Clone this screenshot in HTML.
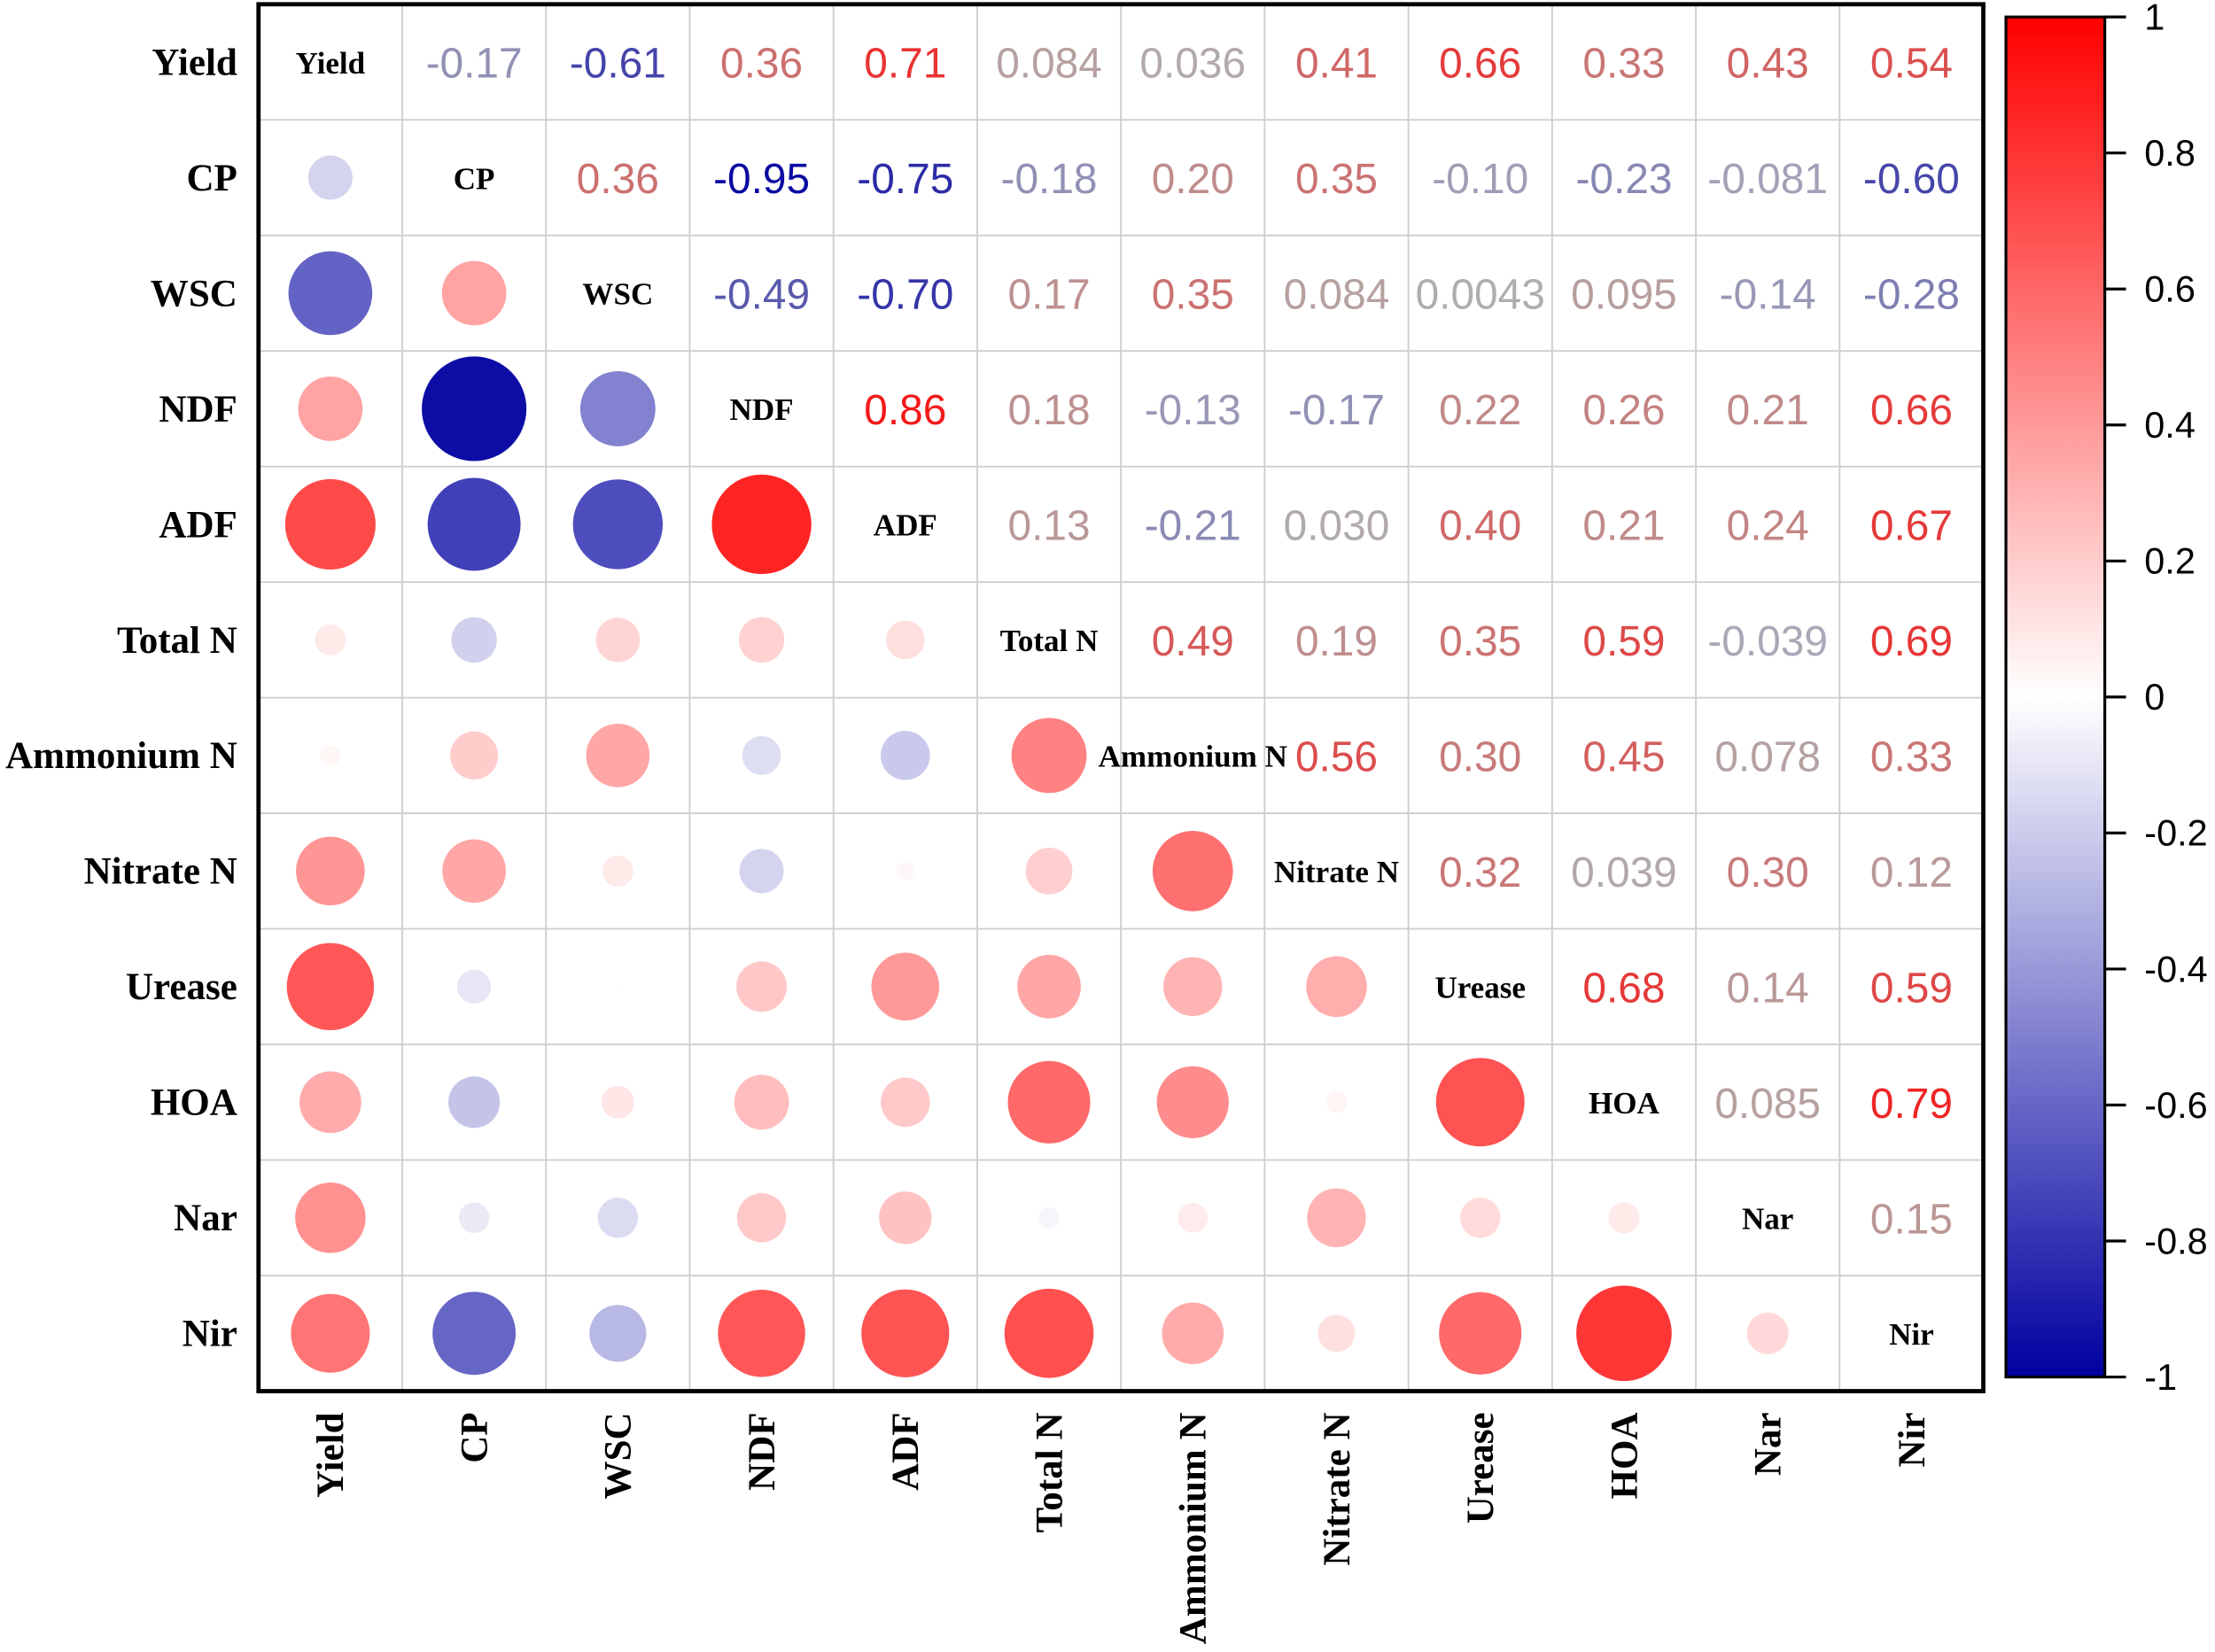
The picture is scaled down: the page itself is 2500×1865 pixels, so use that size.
<!DOCTYPE html>
<html><head><meta charset="utf-8"><style>
html,body{margin:0;padding:0;background:#fff;}
svg{display:block;}
</style></head><body>
<svg id="chart" width="2500" height="1865" viewBox="0 0 1568 1169.7" xmlns="http://www.w3.org/2000/svg">
<defs>
<linearGradient id="cbar" x1="0" y1="0" x2="0" y2="1">
<stop offset="0" stop-color="rgb(255,0,0)"/>
<stop offset="0.5" stop-color="rgb(255,255,255)"/>
<stop offset="1" stop-color="rgb(0,0,160)"/>
</linearGradient>
</defs>
<g id="grid"></g>
<g id="marks"></g>
<g id="labels"></g>
<rect x="183" y="3" width="1221" height="982" fill="none" stroke="#000" stroke-width="3"/>
<rect x="1420" y="12" width="70" height="963" fill="url(#cbar)" stroke="#000" stroke-width="2"/>
<g id="cbticks"></g>
</svg>
<script>
const variables = ["Yield","CP","WSC","NDF","ADF","Total N","Ammonium N","Nitrate N","Urease","HOA","Nar","Nir"];
const upperRows = [
 [-0.17,-0.61,0.36,0.71,0.084,0.036,0.41,0.66,0.33,0.43,0.54],
 [0.36,-0.95,-0.75,-0.18,0.20,0.35,-0.10,-0.23,-0.081,-0.60],
 [-0.49,-0.70,0.17,0.35,0.084,0.0043,0.095,-0.14,-0.28],
 [0.86,0.18,-0.13,-0.17,0.22,0.26,0.21,0.66],
 [0.13,-0.21,0.030,0.40,0.21,0.24,0.67],
 [0.49,0.19,0.35,0.59,-0.039,0.69],
 [0.56,0.30,0.45,0.078,0.33],
 [0.32,0.039,0.30,0.12],
 [0.68,0.14,0.59],
 [0.085,0.79],
 [0.15]
];
const upperLabels = [
 ["-0.17","-0.61","0.36","0.71","0.084","0.036","0.41","0.66","0.33","0.43","0.54"],
 ["0.36","-0.95","-0.75","-0.18","0.20","0.35","-0.10","-0.23","-0.081","-0.60"],
 ["-0.49","-0.70","0.17","0.35","0.084","0.0043","0.095","-0.14","-0.28"],
 ["0.86","0.18","-0.13","-0.17","0.22","0.26","0.21","0.66"],
 ["0.13","-0.21","0.030","0.40","0.21","0.24","0.67"],
 ["0.49","0.19","0.35","0.59","-0.039","0.69"],
 ["0.56","0.30","0.45","0.078","0.33"],
 ["0.32","0.039","0.30","0.12"],
 ["0.68","0.14","0.59"],
 ["0.085","0.79"],
 ["0.15"]
];
const cbTicks = [1,0.8,0.6,0.4,0.2,0,-0.2,-0.4,-0.6,-0.8,-1];
const cbTickLabels = ["1","0.8","0.6","0.4","0.2","0","-0.2","-0.4","-0.6","-0.8","-1"];

const NS="http://www.w3.org/2000/svg";
const X0=183,Y0=3,W=1221,H=982,n=variables.length,cw=W/n,ch=H/n;
const cx=i=>X0+cw*(i+0.5), cy=i=>Y0+ch*(i+0.5);
const cbY=v=>12+(1-v)/2*963;
const rScale=v=>38*Math.sqrt(Math.abs(v));
function mk(tag,attrs,parent){const e=document.createElementNS(NS,tag);for(const k in attrs)e.setAttribute(k,attrs[k]);parent.appendChild(e);return e;}
function col(v){
 if(v>=0){const t=v;return `rgb(255,${Math.round(255*(1-t))},${Math.round(255*(1-t))})`;}
 const t=-v;return `rgb(${Math.round(255*(1-t))},${Math.round(255*(1-t))},${Math.round(255-95*t)})`;
}
function tcol(v){
 if(v>=0){const t=v;return `rgb(${Math.round(175+80*t)},${Math.round(175*(1-t))},${Math.round(175*(1-t))})`;}
 const t=-v;return `rgb(${Math.round(175*(1-t))},${Math.round(175*(1-t))},${Math.round(185-25*t)})`;
}
const grid=document.getElementById('grid'),marks=document.getElementById('marks'),labels=document.getElementById('labels'),cbt=document.getElementById('cbticks');
for(let i=1;i<n;i++){
 let l=mk('line',{x1:X0+cw*i,x2:X0+cw*i,y1:Y0,y2:Y0+H,stroke:'#cfcfcf','stroke-width':1.2},grid);
 
 
 l=mk('line',{x1:X0,x2:X0+W,y1:Y0+ch*i,y2:Y0+ch*i,stroke:'#cfcfcf','stroke-width':1.2},grid);
 
 
}
for(let i=0;i<n;i++){
 for(let j=0;j<n;j++){
  if(i===j){
   const t=mk('text',{x:cx(j),y:cy(i)+8,'text-anchor':'middle','font-family':'Liberation Serif, serif','font-weight':'bold','font-size':22},labels);
   t.textContent=variables[i];
   
   
  } else if(j>i){
   const v=upperRows[i][j-i-1];
   const t=mk('text',{x:cx(j),y:cy(i)+11,'text-anchor':'middle','font-family':'Liberation Sans, sans-serif','font-size':30,fill:tcol(v)},labels);
   t.textContent=upperLabels[i][j-i-1];
   
   
  } else {
   const v=upperRows[j][i-j-1];
   const c=mk('circle',{cx:cx(j),cy:cy(i),r:rScale(v),fill:col(v)},marks);
   
   
  }
 }
 const rl=mk('text',{x:168,y:cy(i)+9,'text-anchor':'end','font-family':'Liberation Serif, serif','font-weight':'bold','font-size':27},labels);
 rl.textContent=variables[i];
 
 
 const cl=mk('text',{x:0,y:0,'text-anchor':'end','font-family':'Liberation Serif, serif','font-weight':'bold','font-size':27,transform:`translate(${cx(i)+9},1000) rotate(-90)`},labels);
 cl.textContent=variables[i];
 
 
}
cbTicks.forEach((v,k)=>{
 const l=mk('line',{x1:1490,x2:1505,y1:cbY(v),y2:cbY(v),stroke:'#000','stroke-width':2},cbt);
 
 
 const t=mk('text',{x:1518,y:cbY(v)+9,'font-family':'Liberation Sans, sans-serif','font-size':26},cbt);
 t.textContent=cbTickLabels[k];
 
 
});
</script>
</body></html>
